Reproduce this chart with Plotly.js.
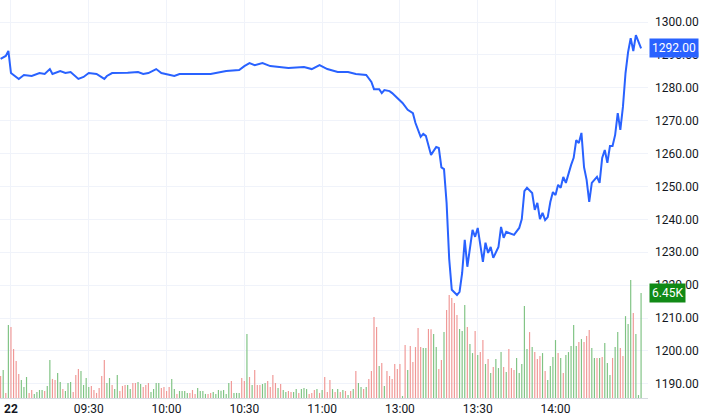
<!DOCTYPE html>
<html>
<head>
<meta charset="utf-8">
<script src="https://cdn.plot.ly/plotly-3.0.1.min.js"></script>
<style>
  html, body { margin: 0; padding: 0; background: #ffffff; }
  #chart { width: 706px; height: 420px; }
</style>
</head>
<body>
<div id="chart"></div>
<script>
// ---- Session definition (1-minute bars, lunch break removed) ----
const sessions = [["08:56", "11:29"], ["13:00", "14:33"]];

// ---- Axis ticks ----
const tickTimes = ["09:00", "09:30", "10:00", "10:30", "11:00", "13:00", "13:30", "14:00"];
const tickLabels = ["<b>22</b>", "09:30", "10:00", "10:30", "11:00", "13:00", "13:30", "14:00"];
const priceTicks = [1190, 1200, 1210, 1220, 1230, 1240, 1250, 1260, 1270, 1280, 1290, 1300];

// ---- Price line (time, price) ----
const priceTimes = [
  "08:56","08:57","08:58","08:59","09:00","09:03","09:05","09:08","09:11","09:13",
  "09:15","09:16","09:19","09:21","09:23","09:26","09:28","09:30","09:33","09:36",
  "09:37","09:39","09:42","09:45","09:49","09:51","09:53","09:56","09:58","10:00",
  "10:03","10:05","10:09","10:13","10:17","10:23","10:28","10:30","10:32","10:34",
  "10:37","10:40","10:43","10:47","10:53","10:56","10:59","11:02","11:06","11:10",
  "11:13","11:17","11:19","11:20","11:22","11:23","11:24","11:26","11:27","11:29",
  "13:01","13:03","13:05","13:06","13:07","13:08","13:09","13:10","13:12","13:14",
  "13:15","13:16","13:17","13:18","13:19","13:20","13:22","13:23","13:24","13:25",
  "13:26","13:27","13:28","13:29","13:30","13:32","13:33","13:34","13:35","13:36",
  "13:38","13:39","13:40","13:41","13:44","13:46","13:47","13:48","13:49","13:51",
  "13:52","13:53","13:54","13:55","13:56","13:57","13:58","13:59","14:00","14:01",
  "14:02","14:03","14:04","14:06","14:07","14:08","14:09","14:10","14:11","14:12",
  "14:13","14:14","14:16","14:17","14:18","14:19","14:20","14:21","14:22","14:23",
  "14:24","14:25","14:26","14:27","14:28","14:29","14:30","14:31","14:32","14:33"
];
const prices = [
  1288.8,1289.2,1289.7,1291.2,1284.5,1282.7,1283.9,1283.6,1284.5,1284.2,
  1285.7,1284.2,1285.1,1284.5,1284.8,1282.7,1283.3,1284.5,1284.2,1282.7,
  1283.6,1284.5,1284.5,1284.6,1284.8,1284.2,1284.5,1285.7,1284.5,1284.2,
  1283.6,1284.2,1284.2,1284.3,1284.2,1285.1,1285.4,1286.6,1287.5,1286.9,
  1287.5,1286.6,1286.3,1286.0,1286.3,1285.7,1286.9,1285.7,1284.8,1284.8,
  1284.2,1283.9,1281.8,1279.6,1279.6,1278.4,1279.3,1279.0,1278.4,1276.9,
  1275.4,1273.3,1272.3,1269.3,1267.2,1265.1,1266.0,1265.4,1259.6,1262.0,
  1261.7,1255.8,1255.3,1245.0,1228.0,1218.6,1217.0,1218.0,1223.7,1233.8,
  1225.6,1231.6,1236.8,1234.7,1237.4,1227.1,1232.9,1229.8,1231.6,1228.3,
  1231.6,1237.7,1234.4,1236.2,1235.3,1237.4,1240.1,1248.6,1249.6,1248.0,
  1242.9,1245.0,1240.1,1242.0,1239.8,1240.7,1245.3,1248.3,1247.4,1250.5,
  1249.6,1252.9,1251.1,1256.5,1258.7,1264.1,1263.2,1266.3,1255.9,1252.0,
  1245.3,1251.1,1252.9,1251.1,1258.7,1261.1,1257.2,1262.3,1262.3,1265.7,
  1272.3,1267.2,1274.2,1284.5,1290.9,1295.1,1291.2,1296.0,1293.9,1292.0
];

// ---- Volume per minute (in the order of the session minutes) ----
const volumes = [
  1350,1720,310,4480,4360,3010,2270,1470,1100,680,
  1290,310,490,250,370,490,490,430,740,2330,
  1170,1110,1540,980,550,430,920,980,370,1410,
  1780,1660,800,1230,680,740,490,310,610,1350,
  2330,920,1230,800,550,1410,430,740,800,800,
  550,920,920,980,860,680,800,920,370,550,
  920,920,610,680,430,680,1170,550,250,430,
  430,430,310,310,490,250,610,430,430,250,
  250,310,370,250,
  490,450,490,250,920,1040,310,310,310,1230,
  1040,3930,1290,800,1720,800,800,860,920,1040,
  680,1410,920,610,860,490,370,430,370,370,
  550,310,550,610,550,250,310,490,550,310,
  490,1290,370,1110,550,370,550,370,490,430,
  180,430,550,1660,920,680,550,680,1170,1660,
  4970,4360,1960,2150,740,1660,1350,1170,2090,1780,
  2090,120,3250,1720,3190,2210,3130,4300,3130,3070,
  3070,4240,
  4220,3930,3130,1780,2330,4050,5400,6320,6140,5830,
  5100,4240,4110,5710,4360,3320,2760,4110,2640,2820,
  3560,2090,2390,1540,1900,2390,1840,2820,1900,1600,
  3010,1840,1720,2460,1540,2090,5650,3010,4050,3130,
  2820,2390,2580,2760,1660,1100,1960,2520,3560,2760,
  2460,1540,2640,2820,3190,4480,3190,3440,3620,3440,
  3810,4170,3070,2460,2460,2460,2520,3380,2150,1410,
  2460,3130,4050,3070,2580,5030,4540,7250,5220,3930,
  180,6450
];

// ---- Direction of each volume bar: "u" = up (green), "d" = down (red) ----
const volumeDir = [
  "d","u","d","u","d","d","d","d","u","u", "u","d","d","u","u","u","u","d","u","u",
  "d","d","u","u","d","u","u","u","d","d", "d","u","u","u","u","d","d","d","d","d",
  "d","u","u","d","u","u","d","d","d","u", "u","d","d","u","u","d","d","d","u","u",
  "u","u","d","d","d","d","u","u","d","u", "u","u","u","d","d","d","u","u","u","u",
  "d","d","u","u",
  "u","u","u","u","u","d","u","u","u","d", "d","u","d","u","d","d","d","u","u","d",
  "d","d","d","u","d","u","u","d","d","u", "u","d","u","u","u","d","d","d","u","d",
  "u","d","d","d","u","d","u","d","u","d", "u","d","u","d","u","u","d","u","d","d",
  "d","d","u","d","u","d","d","d","d","d", "d","u","d","u","d","d","d","d","d","u",
  "u","d",
  "d","u","u","d","d","u","d","d","d","d", "d","u","u","u","d","u","u","d","u","d",
  "d","u","d","u","d","u","u","u","d","u", "d","d","d","u","u","u","u","u","d","u",
  "d","d","d","u","d","u","u","u","u","d", "u","d","u","u","u","u","u","d","u","d",
  "d","d","u","u","d","u","d","u","u","u", "d","u","u","d","d","u","u","u","d","u",
  "u","u"
];
</script>
<script>
// Build the minute categories from the sessions
function toMin(s) { const p = s.split(":"); return (+p[0]) * 60 + (+p[1]); }
function toStr(m) { const h = Math.floor(m / 60), mm = m % 60; return (h < 10 ? "0" : "") + h + ":" + (mm < 10 ? "0" : "") + mm; }
const times = [];
sessions.forEach(([a, b]) => { for (let m = toMin(a); m <= toMin(b); m++) times.push(toStr(m)); });

const UP = "#7fc383", DOWN = "#f09896";
const barColors = volumeDir.map(d => d === "u" ? UP : DOWN);

const fontFam = "Roboto, 'Open Sans', sans-serif";
const lastPrice = prices[prices.length - 1];
const lastVol = volumes[volumes.length - 1];
const volMaxRange = lastVol * 398 / 105;

const data = [
  {
    type: "bar",
    x: times,
    y: volumes,
    yaxis: "y2",
    marker: { color: barColors, line: { width: 0 } },
    width: 0.45,
    hoverinfo: "skip"
  },
  {
    type: "scatter",
    mode: "lines",
    x: priceTimes,
    y: prices,
    line: { color: "#2962ff", width: 2 },
    hoverinfo: "skip"
  }
];

const layout = {
  width: 706,
  height: 420,
  margin: { l: 0, r: 58, t: 0, b: 22 },
  paper_bgcolor: "#ffffff",
  plot_bgcolor: "#ffffff",
  showlegend: false,
  font: { family: fontFam, size: 12, color: "#131722" },
  xaxis: {
    type: "category",
    categoryorder: "array",
    categoryarray: times,
    range: [-0.23, 249.67],
    tickmode: "array",
    tickvals: tickTimes,
    ticktext: tickLabels,
    showgrid: true,
    gridcolor: "#f0f3fa",
    gridwidth: 1,
    showline: true,
    linecolor: "#d6d9e0",
    linewidth: 1,
    ticks: "",
    zeroline: false,
    tickfont: { family: fontFam, size: 12, color: "#131722" }
  },
  yaxis: {
    side: "right",
    range: [1185.7, 1306.7],
    tickmode: "array",
    tickvals: priceTicks,
    tickformat: ".2f",
    showgrid: true,
    gridcolor: "#f0f3fa",
    gridwidth: 1,
    zeroline: false,
    showline: false,
    ticks: "",
    ticklabelstandoff: 6,
    tickfont: { family: fontFam, size: 12, color: "#131722" }
  },
  yaxis2: {
    overlaying: "y",
    side: "left",
    range: [0, volMaxRange],
    visible: false,
    showgrid: false,
    zeroline: false
  },
  annotations: [
    {
      xref: "paper", yref: "y", x: 1, y: lastPrice,
      xanchor: "left", yanchor: "middle", xshift: 1,
      text: lastPrice.toFixed(2), showarrow: false,
      bgcolor: "#2962ff", font: { family: fontFam, size: 12, color: "#ffffff" },
      borderpad: 2
    },
    {
      xref: "paper", yref: "y2", x: 1, y: lastVol,
      xanchor: "left", yanchor: "middle", xshift: 1,
      text: (lastVol / 1000).toFixed(2) + "K", showarrow: false,
      bgcolor: "#118a16", font: { family: fontFam, size: 12, color: "#ffffff" },
      borderpad: 2
    }
  ]
};

Plotly.newPlot("chart", data, layout, { displayModeBar: false, staticPlot: true });
</script>
</body>
</html>
